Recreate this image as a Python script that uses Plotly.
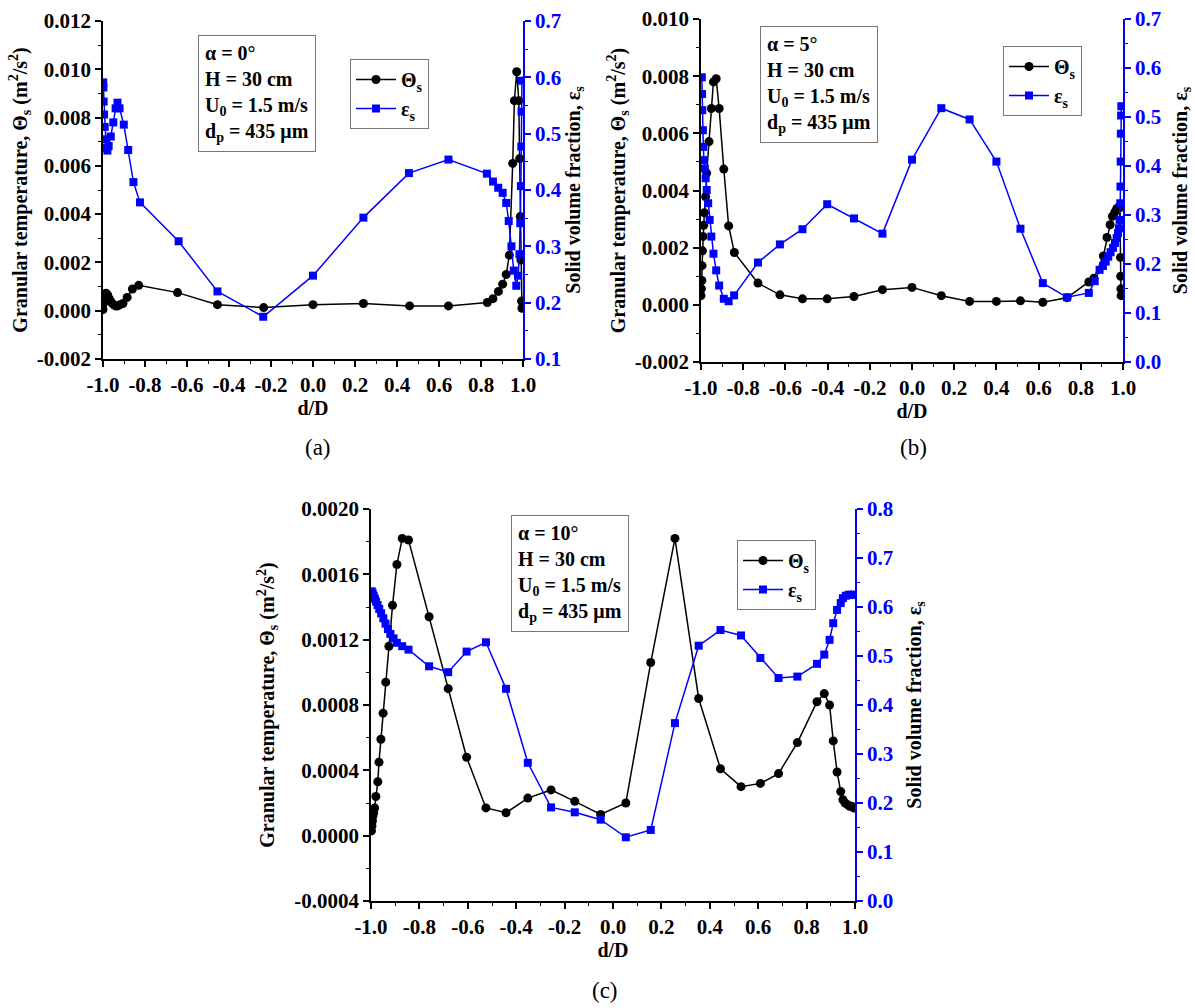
import plotly.graph_objects as go

W, H = 1195, 1008
FONT = "Liberation Serif"
BLUE = "#0000FF"

# ---------------- data: alpha = 0 deg ----------------
x_a_theta = [-1.0, -0.998, -0.995, -0.99, -0.985, -0.978, -0.97, -0.96, -0.95, -0.94,
             -0.93, -0.918, -0.905, -0.885, -0.86, -0.83, -0.645, -0.455, -0.235, 0.0,
             0.24, 0.46, 0.645, 0.83, 0.857, 0.883, 0.903, 0.92, 0.935, 0.951,
             0.959, 0.970, 0.980, 0.984, 0.987, 0.990, 0.993, 0.995]
theta_a = [0.00005, 0.0003, 0.00055, 0.0007, 0.00072, 0.00065, 0.0005, 0.00035, 0.00025, 0.0002,
           0.0002, 0.00025, 0.0003, 0.00055, 0.0009, 0.00105, 0.00075, 0.00025, 0.00013, 0.00025,
           0.0003, 0.0002, 0.0002, 0.00034, 0.0005, 0.0008, 0.0011, 0.0015, 0.0023, 0.0061,
           0.0087, 0.0099, 0.0087, 0.0063, 0.0039, 0.0021, 0.0004, 0.0001]
x_a_eps = [-0.999, -0.998, -0.997, -0.995, -0.992, -0.989, -0.985, -0.979, -0.973, -0.963,
           -0.951, -0.94, -0.931, -0.921, -0.901, -0.880, -0.855, -0.824, -0.640, -0.455,
           -0.237, 0.0, 0.240, 0.457, 0.645, 0.828, 0.857, 0.882, 0.903, 0.920,
           0.932, 0.945, 0.956, 0.968, 0.977, 0.983, 0.987, 0.990, 0.992, 0.993, 0.995]
eps_a = [0.591, 0.582, 0.557, 0.534, 0.512, 0.490, 0.475, 0.470, 0.478, 0.495,
         0.520, 0.545, 0.555, 0.545, 0.516, 0.471, 0.414, 0.378, 0.309, 0.220,
         0.175, 0.248, 0.351, 0.430, 0.454, 0.429, 0.415, 0.404, 0.395, 0.377,
         0.345, 0.300, 0.257, 0.230, 0.248, 0.286, 0.341, 0.407, 0.477, 0.539, 0.594]

# ---------------- data: alpha = 5 deg ----------------
x_b_theta = [-1.0, -0.998, -0.996, -0.995, -0.993, -0.991, -0.987, -0.984, -0.978, -0.973,
             -0.962, -0.951, -0.941, -0.928, -0.914, -0.892, -0.869, -0.842, -0.730, -0.626,
             -0.519, -0.402, -0.275, -0.140, 0.0, 0.139, 0.273, 0.400, 0.514, 0.620,
             0.735, 0.838, 0.862, 0.907, 0.924, 0.939, 0.950, 0.961, 0.970, 0.979,
             0.986, 0.988, 0.989, 0.990, 0.991]
theta_b = [0.00032, 0.00056, 0.00085, 0.00137, 0.00189, 0.00239, 0.00278, 0.00322, 0.00378, 0.00461,
           0.00571, 0.00687, 0.0078, 0.00791, 0.00687, 0.00475, 0.00276, 0.00183, 0.00076, 0.00035,
           0.00021, 0.00021, 0.00029, 0.00053, 0.00061, 0.00032, 0.00012, 0.00012, 0.00014, 0.00009,
           0.00025, 0.00080, 0.00093, 0.00171, 0.00236, 0.00280, 0.00310, 0.00324, 0.00336, 0.00342,
           0.00340, 0.00166, 0.00100, 0.00056, 0.00032]
x_b_eps = [-0.996, -0.995, -0.994, -0.991, -0.989, -0.986, -0.982, -0.978, -0.973, -0.966,
           -0.959, -0.951, -0.941, -0.928, -0.914, -0.892, -0.869, -0.843, -0.730, -0.626,
           -0.519, -0.402, -0.275, -0.140, 0.0, 0.139, 0.273, 0.400, 0.514, 0.620,
           0.735, 0.838, 0.866, 0.889, 0.905, 0.918, 0.930, 0.941, 0.953, 0.962,
           0.970, 0.976, 0.981, 0.984, 0.987, 0.988, 0.989, 0.990, 0.991, 0.992]
eps_b = [0.581, 0.547, 0.514, 0.473, 0.439, 0.412, 0.395, 0.375, 0.351, 0.324,
         0.290, 0.256, 0.221, 0.187, 0.156, 0.129, 0.124, 0.136, 0.203, 0.240,
         0.271, 0.322, 0.293, 0.262, 0.413, 0.518, 0.495, 0.409, 0.272, 0.161,
         0.132, 0.141, 0.165, 0.188, 0.196, 0.205, 0.215, 0.224, 0.233, 0.243,
         0.253, 0.263, 0.273, 0.290, 0.324, 0.358, 0.409, 0.466, 0.503, 0.522]

# ---------------- data: alpha = 10 deg ----------------
x_c_theta = [-0.998, -0.996, -0.994, -0.992, -0.989, -0.985, -0.980, -0.972, -0.967, -0.959,
             -0.950, -0.939, -0.926, -0.911, -0.893, -0.871, -0.845, -0.760, -0.681, -0.605,
             -0.525, -0.442, -0.352, -0.256, -0.158, -0.051, 0.053, 0.156, 0.256, 0.354,
             0.444, 0.529, 0.609, 0.684, 0.762, 0.843, 0.873, 0.895, 0.910, 0.926,
             0.941, 0.950, 0.959, 0.969, 0.978, 0.987, 0.994]
theta_c = [0.00003, 0.00006, 0.00009, 0.00012, 0.00014, 0.00017, 0.00024, 0.00033, 0.00045, 0.00059,
           0.00075, 0.00094, 0.00116, 0.00141, 0.00166, 0.00182, 0.00181, 0.00134, 0.00090, 0.00048,
           0.00017, 0.00014, 0.00023, 0.00028, 0.00021, 0.00013, 0.00020, 0.00106, 0.00182, 0.00084,
           0.00041, 0.00030, 0.00032, 0.00038, 0.00057, 0.00082, 0.00087, 0.00080, 0.00058, 0.00039,
           0.00027, 0.00022, 0.00020, 0.00019, 0.00018, 0.00018, 0.00017]
x_c_eps = [-0.997, -0.993, -0.989, -0.984, -0.979, -0.973, -0.966, -0.958, -0.949, -0.940,
           -0.930, -0.920, -0.907, -0.893, -0.871, -0.845, -0.760, -0.681, -0.605, -0.525,
           -0.442, -0.352, -0.256, -0.158, -0.051, 0.053, 0.156, 0.256, 0.354, 0.444,
           0.529, 0.609, 0.684, 0.762, 0.843, 0.873, 0.895, 0.910, 0.926, 0.941,
           0.950, 0.962, 0.974, 0.985, 0.994]
eps_c = [0.632, 0.628, 0.623, 0.617, 0.611, 0.604, 0.596, 0.587, 0.577, 0.566,
         0.555, 0.545, 0.536, 0.527, 0.520, 0.513, 0.479, 0.467, 0.509, 0.528,
         0.433, 0.282, 0.191, 0.181, 0.166, 0.130, 0.145, 0.363, 0.521, 0.553,
         0.542, 0.496, 0.455, 0.458, 0.484, 0.503, 0.533, 0.567, 0.594, 0.608,
         0.618, 0.623, 0.625, 0.625, 0.625]

# ---------------- tick labels ----------------
x_ticks = [-1.0, -0.8, -0.6, -0.4, -0.2, 0.0, 0.2, 0.4, 0.6, 0.8, 1.0]
x_ticktext = ["-1.0", "-0.8", "-0.6", "-0.4", "-0.2", "0.0", "0.2", "0.4", "0.6", "0.8", "1.0"]
ya_ticks = [-0.002, 0.0, 0.002, 0.004, 0.006, 0.008, 0.010, 0.012]
ya_ticktext = ["-0.002", "0.000", "0.002", "0.004", "0.006", "0.008", "0.010", "0.012"]
yb_ticks = [-0.002, 0.0, 0.002, 0.004, 0.006, 0.008, 0.010]
yb_ticktext = ["-0.002", "0.000", "0.002", "0.004", "0.006", "0.008", "0.010"]
yc_ticks = [-0.0004, 0.0, 0.0004, 0.0008, 0.0012, 0.0016, 0.0020]
yc_ticktext = ["-0.0004", "0.0000", "0.0004", "0.0008", "0.0012", "0.0016", "0.0020"]
ra_ticks = [0.1, 0.2, 0.3, 0.4, 0.5, 0.6, 0.7]
rb_ticks = [0.0, 0.1, 0.2, 0.3, 0.4, 0.5, 0.6, 0.7]
rc_ticks = [0.0, 0.1, 0.2, 0.3, 0.4, 0.5, 0.6, 0.7, 0.8]

panel_text = {
    "a": "α = 0°<br>H = 30 cm<br>U<sub>0</sub> = 1.5 m/s<br>d<sub>p</sub> = 435 μm",
    "b": "α = 5°<br>H = 30 cm<br>U<sub>0</sub> = 1.5 m/s<br>d<sub>p</sub> = 435 μm",
    "c": "α = 10°<br>H = 30 cm<br>U<sub>0</sub> = 1.5 m/s<br>d<sub>p</sub> = 435 μm",
}


def px(xp):
    return xp / W


def py(yp):
    return 1 - yp / H


TICKFONT = dict(family=FONT, size=21, color="black", weight="bold")
TITLEFONT = dict(family=FONT, size=20, color="black", weight="bold")

fig = go.Figure()

panels = [
    # suffix, x-domain px, y-domain px, left range, left ticks, minor step, right range,
    # right ticks, data, legend, left/right title standoff
    ("", (103, 523), (21, 359), [-0.002, 0.012], (ya_ticks, ya_ticktext), 0.001,
     [0.1, 0.7], ra_ticks, (x_a_theta, theta_a, x_a_eps, eps_a), "legend", (4, 4)),
    ("2", (701, 1123), (19, 362), [-0.002, 0.010], (yb_ticks, yb_ticktext), 0.001,
     [0.0, 0.7], rb_ticks, (x_b_theta, theta_b, x_b_eps, eps_b), "legend2", (4, 12)),
    ("3", (371, 855), (509, 901), [-0.0004, 0.0020], (yc_ticks, yc_ticktext), 0.0002,
     [0.0, 0.8], rc_ticks, (x_c_theta, theta_c, x_c_eps, eps_c), "legend3", (14, 14)),
]

layout_axes = {}
for i, (sfx, xd, yd, lrange, lt, lminor, rrange, rt, data, leg, so) in enumerate(panels):
    xname = "x" + sfx
    yl = "y" if i == 0 else "y" + str(2 * i + 1)
    yr = "y" + str(2 * i + 2)
    xt, yt, xe, ye = data

    fig.add_trace(go.Scatter(
        x=xt, y=yt, xaxis=xname, yaxis=yl, mode="lines+markers", name="Θ<sub>s</sub>",
        line=dict(color="black", width=1.5), marker=dict(symbol="circle", size=9, color="black"),
        legend=leg))
    fig.add_trace(go.Scatter(
        x=xe, y=ye, xaxis=xname, yaxis=yr, mode="lines+markers", name="ε<sub>s</sub>",
        line=dict(color=BLUE, width=1.5), marker=dict(symbol="square", size=8, color=BLUE),
        legend=leg))

    xkey = "xaxis" + sfx
    ylkey = "yaxis" if i == 0 else "yaxis" + str(2 * i + 1)
    yrkey = "yaxis" + str(2 * i + 2)

    layout_axes[xkey] = dict(
        domain=[px(xd[0]), px(xd[1])], anchor=yl, range=[-1.0, 1.0],
        tickmode="array", tickvals=x_ticks, ticktext=x_ticktext,
        ticks="outside", ticklen=6, tickwidth=1.5, tickcolor="black",
        minor=dict(ticks="outside", ticklen=3.5, tickwidth=1.2, tickcolor="black",
                   tickmode="linear", tick0=-1.0, dtick=0.1),
        showline=True, linewidth=1.5, linecolor="black", showgrid=False, zeroline=False,
        tickfont=TICKFONT, title=dict(text="d/D", font=TITLEFONT, standoff=3),
        automargin=False,
    )
    layout_axes[ylkey] = dict(
        domain=[py(yd[1]), py(yd[0])], anchor=xname, range=lrange,
        tickmode="array", tickvals=lt[0], ticktext=lt[1],
        ticks="outside", ticklen=6, tickwidth=1.5, tickcolor="black",
        minor=dict(ticks="outside", ticklen=3.5, tickwidth=1.2, tickcolor="black",
                   tickmode="linear", tick0=0, dtick=lminor),
        showline=True, linewidth=1.5, linecolor="black", showgrid=False, zeroline=False,
        tickfont=TICKFONT,
        title=dict(text="Granular temperature, Θ<sub>s</sub> (m<sup>2</sup>/s<sup>2</sup>)",
                   font=TITLEFONT, standoff=so[0]),
        automargin=False,
    )
    layout_axes[yrkey] = dict(
        overlaying=yl, anchor=xname, side="right", range=rrange,
        tickmode="array", tickvals=rt, ticktext=["%.1f" % v for v in rt],
        ticks="outside", ticklen=6, tickwidth=1.5, tickcolor=BLUE,
        minor=dict(ticks="outside", ticklen=3.5, tickwidth=1.2, tickcolor=BLUE,
                   tickmode="linear", tick0=0, dtick=0.05),
        showline=True, linewidth=1.5, linecolor=BLUE, showgrid=False, zeroline=False,
        tickfont=dict(family=FONT, size=21, color=BLUE, weight="bold"),
        title=dict(text="Solid volume fraction, ε<sub>s</sub>", font=TITLEFONT, standoff=so[1]),
        automargin=False,
    )

legend_style = dict(bgcolor="white", bordercolor="#777777", borderwidth=1,
                    font=dict(family=FONT, size=20, color="black", weight="bold"),
                    xanchor="left", yanchor="top", itemwidth=40, tracegroupgap=0)

annotations = []
boxes = [("a", 198, 35), ("b", 760, 26), ("c", 511, 515)]
for key, bx, by in boxes:
    annotations.append(dict(
        x=px(bx), y=py(by), xref="paper", yref="paper", xanchor="left", yanchor="top",
        text=panel_text[key], showarrow=False, align="left",
        font=dict(family=FONT, size=20, color="black", weight="bold"),
        bordercolor="#777777", borderwidth=1, borderpad=6, bgcolor="white"))

for lab, lx, ly in [("(a)", 318, 447), ("(b)", 913, 447), ("(c)", 605, 990)]:
    annotations.append(dict(
        x=px(lx), y=py(ly), xref="paper", yref="paper", xanchor="center", yanchor="middle",
        text=lab, showarrow=False, font=dict(family=FONT, size=23, color="black")))

fig.update_layout(
    width=W, height=H, margin=dict(l=0, r=0, t=0, b=0),
    paper_bgcolor="white", plot_bgcolor="white",
    font=dict(family=FONT, color="black"),
    legend=dict(x=px(350), y=py(59), **legend_style),
    legend2=dict(x=px(1003), y=py(46), **legend_style),
    legend3=dict(x=px(737), y=py(540), **legend_style),
    annotations=annotations,
    **layout_axes,
)

fig.write_html("out.html")
